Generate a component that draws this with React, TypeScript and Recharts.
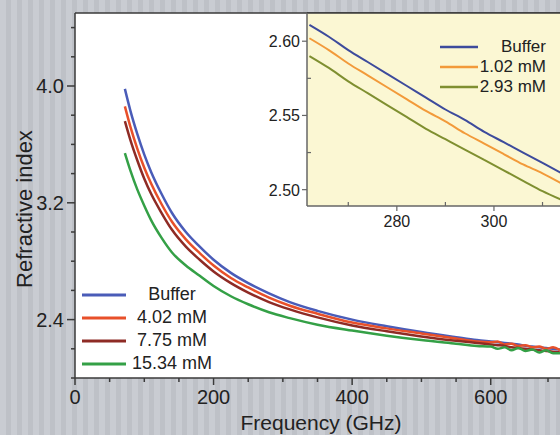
import React from "react";
import {
  LineChart,
  Line,
  XAxis,
  YAxis,
  CartesianGrid,
  Legend,
  ReferenceLine,
  Label,
} from "recharts";

const FONT = "'Liberation Sans', Arial, sans-serif";
const AXIS = "#3a3a3a";

// main chart: frequency (GHz) vs refractive index
const mainNames = ["Buffer", "4.02 mM", "7.75 mM", "15.34 mM"];
const freq = [72, 80, 90, 100, 110, 125, 140, 160, 180, 200, 225, 250, 280, 310, 350, 400, 450, 500, 550, 580, 600, 610, 620, 630, 640, 650, 660, 670, 680, 690, 700];
const buffer = [3.98, 3.83, 3.67, 3.53, 3.41, 3.26, 3.13, 3.0, 2.9, 2.81, 2.72, 2.65, 2.58, 2.52, 2.46, 2.4, 2.355, 2.315, 2.28, 2.26, 2.25, 2.245, 2.24, 2.235, 2.23, 2.22, 2.215, 2.21, 2.205, 2.2, 2.195];
const c402 = [3.86, 3.72, 3.57, 3.44, 3.33, 3.19, 3.07, 2.95, 2.855, 2.77, 2.685, 2.62, 2.55, 2.495, 2.44, 2.38, 2.34, 2.305, 2.27, 2.25, 2.245, 2.25, 2.23, 2.235, 2.22, 2.225, 2.21, 2.215, 2.2, 2.21, 2.19];
const c775 = [3.76, 3.63, 3.49, 3.365, 3.26, 3.13, 3.015, 2.9, 2.81, 2.73, 2.65, 2.585, 2.52, 2.47, 2.415, 2.36, 2.32, 2.285, 2.255, 2.24, 2.23, 2.225, 2.22, 2.21, 2.205, 2.2, 2.195, 2.19, 2.185, 2.18, 2.175];
const c1534 = [3.54, 3.42, 3.29, 3.18, 3.08, 2.96, 2.86, 2.77, 2.7, 2.63, 2.56, 2.505, 2.45, 2.41, 2.365, 2.325, 2.29, 2.26, 2.235, 2.22, 2.215, 2.2, 2.21, 2.19, 2.205, 2.185, 2.195, 2.175, 2.19, 2.17, 2.17];

const xTicks = [0, 50, 100, 150, 200, 250, 300, 350, 400, 450, 500, 550, 600, 650, 700];
const yTicks = [2.0, 2.2, 2.4, 2.6, 2.8, 3.0, 3.2, 3.4, 3.6, 3.8, 4.0, 4.2, 4.4];

// inset: zoom on 262-314 GHz
const insetNames = ["Buffer", "1.02 mM", "2.93 mM"];
const inFreq = [262, 266, 270, 274, 278, 282, 286, 290, 294, 298, 302, 306, 310, 314];
const inBuffer = [2.611, 2.603, 2.594, 2.586, 2.578, 2.57, 2.562, 2.554, 2.547, 2.539, 2.532, 2.525, 2.518, 2.511];
const in102 = [2.602, 2.594, 2.585, 2.577, 2.569, 2.561, 2.553, 2.546, 2.538, 2.531, 2.524, 2.517, 2.511, 2.504];
const in293 = [2.59, 2.582, 2.573, 2.565, 2.557, 2.549, 2.541, 2.534, 2.527, 2.52, 2.513, 2.506, 2.499, 2.493];

const inXTicks = [270, 280, 290, 300, 310];
const inYTicks = [2.5, 2.525, 2.55, 2.575, 2.6];

const mainData = freq.map((f, i) => ({
  f,
  buffer: buffer[i],
  c402: c402[i],
  c775: c775[i],
  c1534: c1534[i],
}));

const insetData = inFreq.map((f, i) => ({
  f,
  buffer: inBuffer[i],
  c102: in102[i],
  c293: in293[i],
}));

const MainXTick = (props: any) => {
  const { x, y, payload } = props;
  const major = payload.value % 200 === 0;
  return (
    <g>
      <line x1={x} y1={y} x2={x} y2={y + (major ? 7 : 4)} stroke={AXIS} strokeWidth={1.5} />
      {major && (
        <text x={x} y={y + 26} textAnchor="middle" fontSize={20} fontFamily={FONT} fill="#222">
          {payload.value}
        </text>
      )}
    </g>
  );
};

const MainYTick = (props: any) => {
  const { x, y, payload } = props;
  const major = Math.round(payload.value * 10) % 8 === 0;
  return (
    <g>
      <line x1={x} y1={y} x2={x - (major ? 8 : 4)} y2={y} stroke={AXIS} strokeWidth={1.5} />
      {major && (
        <text x={x - 11} y={y + 7} textAnchor="end" fontSize={20} fontFamily={FONT} fill="#222">
          {payload.value.toFixed(1)}
        </text>
      )}
    </g>
  );
};

const InsetXTick = (props: any) => {
  const { x, y, payload } = props;
  const major = payload.value % 20 === 0;
  return (
    <g>
      <line x1={x} y1={y} x2={x} y2={major ? y + 5 : y - 4} stroke="#666" strokeWidth={1.2} />
      {major && (
        <text x={x} y={y + 21} textAnchor="middle" fontSize={16} fontFamily={FONT} fill="#222">
          {payload.value}
        </text>
      )}
    </g>
  );
};

const InsetYTick = (props: any) => {
  const { x, y, payload } = props;
  const major = Math.round(payload.value * 1000) % 50 === 0;
  return (
    <g>
      <line x1={x} y1={y} x2={major ? x - 5 : x + 4} y2={y} stroke="#666" strokeWidth={1.2} />
      {major && (
        <text x={x - 7} y={y + 6} textAnchor="end" fontSize={16} fontFamily={FONT} fill="#222">
          {payload.value.toFixed(2)}
        </text>
      )}
    </g>
  );
};

const byOrder = (names: string[]) => (payload: any[]) =>
  [...payload].sort((a, b) => names.indexOf(a.value) - names.indexOf(b.value));

const MainLegend = (props: any) => (
  <div style={{ fontFamily: FONT, fontSize: 18, color: "#222" }}>
    {byOrder(mainNames)(props.payload).map((e: any) => (
      <div key={e.value} style={{ display: "flex", alignItems: "center", height: 23 }}>
        <svg width={44} height={6}>
          <line x1={0} y1={3} x2={44} y2={3} stroke={e.color} strokeWidth={3} />
        </svg>
        <span style={{ width: 92, textAlign: "center" }}>{e.value}</span>
      </div>
    ))}
  </div>
);

const InsetLegend = (props: any) => (
  <div style={{ fontFamily: FONT, fontSize: 17, color: "#222" }}>
    {byOrder(insetNames)(props.payload).map((e: any) => (
      <div key={e.value} style={{ display: "flex", alignItems: "center", height: 20 }}>
        <svg width={38} height={6}>
          <line x1={0} y1={3} x2={38} y2={3} stroke={e.color} strokeWidth={2.5} />
        </svg>
        <span style={{ width: 68, textAlign: "right" }}>{e.value}</span>
      </div>
    ))}
  </div>
);

const xTitle = () => (
  <text x={321} y={430} textAnchor="middle" fontSize={21} fontFamily={FONT} fill="#222">
    Frequency (GHz)
  </text>
);

const yTitle = () => (
  <text x={32} y={209} transform="rotate(-90, 32, 209)" textAnchor="middle" fontSize={22} fontFamily={FONT} fill="#222">
    Refractive index
  </text>
);

export default function App() {
  return (
    <div
      style={{
        position: "absolute",
        left: 0,
        top: 0,
        width: 560,
        height: 435,
        overflow: "hidden",
        background:
          "repeating-linear-gradient(90deg, #c9ccd2 0px, #c9ccd2 6px, #bec1c7 6px, #bec1c7 11px)",
      }}
    >
      <div style={{ position: "absolute", left: 0, top: 0 }}>
        <LineChart width={560} height={435} data={mainData} margin={{ top: 13, right: 0, bottom: 0, left: 15 }}>
          <CartesianGrid fill="#ffffff" horizontal={false} vertical={false} />
          <XAxis
            dataKey="f"
            type="number"
            domain={[0, 700]}
            ticks={xTicks}
            allowDataOverflow
            height={57}
            tickSize={0}
            tickMargin={0}
            tick={MainXTick}
            axisLine={{ stroke: AXIS, strokeWidth: 1.5 }}
          >
            <Label content={xTitle} />
          </XAxis>
          <YAxis
            type="number"
            domain={[2.0, 4.5]}
            ticks={yTicks}
            allowDataOverflow
            width={60}
            tickSize={0}
            tickMargin={0}
            tick={MainYTick}
            axisLine={{ stroke: AXIS, strokeWidth: 1.5 }}
          >
            <Label content={yTitle} />
          </YAxis>
          <ReferenceLine y={4.5} stroke={AXIS} strokeWidth={1.5} />
          <Line type="monotone" dataKey="buffer" name="Buffer" stroke="#4a5cb8" strokeWidth={2.5} dot={false} isAnimationActive={false} />
          <Line type="monotone" dataKey="c402" name="4.02 mM" stroke="#e8502a" strokeWidth={2.5} dot={false} isAnimationActive={false} />
          <Line type="monotone" dataKey="c775" name="7.75 mM" stroke="#8e2b25" strokeWidth={2.5} dot={false} isAnimationActive={false} />
          <Line type="monotone" dataKey="c1534" name="15.34 mM" stroke="#34a046" strokeWidth={2.5} dot={false} isAnimationActive={false} />
          <Legend
            layout="vertical"
            align="center"
            verticalAlign="middle"
            content={MainLegend}
            wrapperStyle={{ left: 82, top: 283, width: 140 }}
          />
        </LineChart>
      </div>
      <div style={{ position: "absolute", left: 0, top: 0 }}>
        <LineChart width={560} height={435} data={insetData} margin={{ top: 13, right: 0, bottom: 199, left: 250 }}>
          <CartesianGrid fill="#fbf7d3" horizontal={false} vertical={false} />
          <XAxis
            dataKey="f"
            type="number"
            domain={[261.5, 313.6]}
            ticks={inXTicks}
            allowDataOverflow
            height={30}
            tickSize={0}
            tickMargin={0}
            tick={InsetXTick}
            axisLine={{ stroke: "#666", strokeWidth: 1.5 }}
          />
          <YAxis
            type="number"
            domain={[2.489, 2.619]}
            ticks={inYTicks}
            allowDataOverflow
            width={57}
            tickSize={0}
            tickMargin={0}
            tick={InsetYTick}
            axisLine={{ stroke: "#666", strokeWidth: 1.5 }}
          />
          <ReferenceLine y={2.619} stroke={AXIS} strokeWidth={1.5} />
          <Line type="monotone" dataKey="buffer" name="Buffer" stroke="#3d4b9c" strokeWidth={2} dot={false} isAnimationActive={false} />
          <Line type="monotone" dataKey="c102" name="1.02 mM" stroke="#f29a3a" strokeWidth={2} dot={false} isAnimationActive={false} />
          <Line type="monotone" dataKey="c293" name="2.93 mM" stroke="#7f8f30" strokeWidth={2} dot={false} isAnimationActive={false} />
          <Legend
            layout="vertical"
            align="center"
            verticalAlign="middle"
            content={InsetLegend}
            wrapperStyle={{ left: 440, top: 37, width: 106 }}
          />
        </LineChart>
      </div>
    </div>
  );
}
